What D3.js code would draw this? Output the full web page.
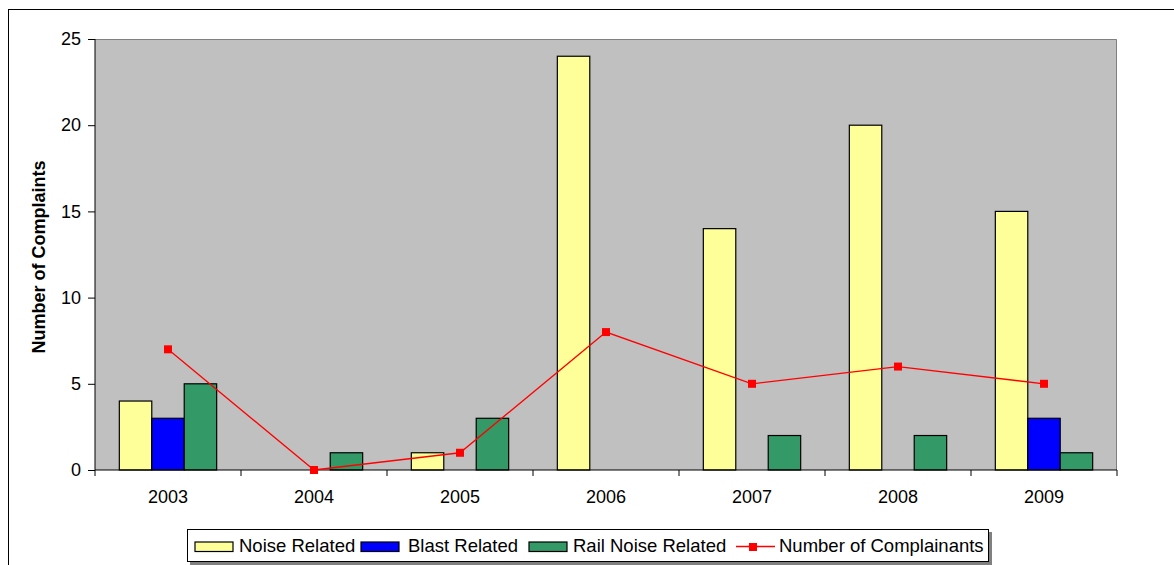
<!DOCTYPE html>
<html>
<head>
<meta charset="utf-8">
<script src="https://cdn.jsdelivr.net/npm/d3@7"></script>
<style>
  html, body { margin: 0; padding: 0; background: #fff; }
  svg { display: block; font-family: "Liberation Sans", Arial, sans-serif; }
</style>
</head>
<body>
<svg id="chart" width="1174" height="565"></svg>
<script>
// Complaint counts per year
const years = ["2003", "2004", "2005", "2006", "2007", "2008", "2009"];
const noiseRelated = [4, 0, 1, 24, 14, 20, 15];
const blastRelated = [3, 0, 0, 0, 0, 0, 3];
const railNoiseRelated = [5, 1, 3, 0, 2, 2, 1];
const complainants = [7, 0, 1, 8, 5, 6, 5];
const yTicks = [0, 5, 10, 15, 20, 25];

const barSeries = [
  { name: "Noise Related", values: noiseRelated, color: "#FFFF99" },
  { name: "Blast Related", values: blastRelated, color: "#0000FF" },
  { name: "Rail Noise Related", values: railNoiseRelated, color: "#339966" }
];

const FONT = "Liberation Sans, Arial, sans-serif";
const svg = d3.select("#chart");
const plot = { left: 95, top: 39, right: 1117, bottom: 470 };

// Outer chart frame
svg.append("rect")
  .attr("x", 8.5).attr("y", 9.5)
  .attr("width", 1180).attr("height", 570)
  .attr("fill", "#fff").attr("stroke", "#000").attr("stroke-width", 1);

const x = d3.scaleBand().domain(years).range([plot.left, plot.right]).paddingInner(0).paddingOuter(0);
const y = d3.scaleLinear().domain([0, 25]).range([plot.bottom, plot.top]);

// Plot area background
svg.append("rect")
  .attr("x", plot.left).attr("y", plot.top)
  .attr("width", plot.right - plot.left).attr("height", plot.bottom - plot.top)
  .attr("fill", "#C0C0C0");
svg.append("path")
  .attr("d", `M${plot.left},${plot.top + 0.5}H${plot.right - 0.5}V${plot.bottom}`)
  .attr("fill", "none").attr("stroke", "#808080").attr("stroke-width", 1);

// Bars: three per year, 150% gap between groups
const barW = x.bandwidth() / 4.5;
const inner = d3.scaleBand().domain(barSeries.map(s => s.name))
  .range([0, barW * 3]);

const groups = svg.append("g");
barSeries.forEach(s => {
  groups.selectAll(null)
    .data(years.map((yr, i) => ({ yr, v: s.values[i] })).filter(d => d.v > 0))
    .join("rect")
    .attr("x", d => x(d.yr) + barW * 0.75 + inner(s.name))
    .attr("y", d => y(d.v))
    .attr("width", inner.bandwidth())
    .attr("height", d => y(0) - y(d.v))
    .attr("fill", s.color)
    .attr("stroke", "#000")
    .attr("stroke-width", 1.2);
});

// Y axis
const yAxis = svg.append("g")
  .attr("transform", `translate(${plot.left},0)`)
  .call(d3.axisLeft(y).tickValues(yTicks).tickSize(7).tickPadding(7));
yAxis.select(".domain").attr("stroke", "#000").attr("d", `M0,${plot.top}V${plot.bottom}`);
yAxis.selectAll(".tick line").attr("stroke", "#000");
yAxis.selectAll("text").attr("font-size", 18).attr("fill", "#000")
  .attr("font-family", FONT);

// X axis with ticks at category boundaries
const xAxisG = svg.append("g").attr("transform", `translate(0,${plot.bottom})`);
xAxisG.append("line")
  .attr("x1", plot.left).attr("x2", plot.right)
  .attr("stroke", "#000").attr("stroke-width", 1);
const boundaries = years.map(yr => x(yr)).concat([x(years[years.length - 1]) + x.bandwidth()]);
xAxisG.selectAll("line.tk").data(boundaries).join("line")
  .attr("class", "tk")
  .attr("x1", d => d).attr("x2", d => d)
  .attr("y1", 0).attr("y2", 6)
  .attr("stroke", "#000");
xAxisG.selectAll("text").data(years).join("text")
  .attr("x", d => x(d) + x.bandwidth() / 2)
  .attr("y", 33)
  .attr("text-anchor", "middle")
  .attr("font-size", 18)
  .text(d => d);

// Y axis title
svg.append("text")
  .attr("transform", `translate(45,257) rotate(-90)`)
  .attr("text-anchor", "middle")
  .attr("font-size", 18)
  .attr("font-weight", "bold")
  .text("Number of Complaints");

// Complainants line with square markers
const lineGen = d3.line()
  .x((d, i) => x(years[i]) + x.bandwidth() / 2)
  .y(d => y(d));
svg.append("path")
  .datum(complainants)
  .attr("d", lineGen)
  .attr("fill", "none")
  .attr("stroke", "#FF0000")
  .attr("stroke-width", 1.3);
svg.selectAll("rect.mk").data(complainants).join("rect")
  .attr("class", "mk")
  .attr("x", (d, i) => x(years[i]) + x.bandwidth() / 2 - 4)
  .attr("y", d => y(d) - 4)
  .attr("width", 8).attr("height", 8)
  .attr("fill", "#FF0000");

// Legend
const legend = svg.append("g");
legend.append("rect")
  .attr("x", 190).attr("y", 532).attr("width", 802).attr("height", 33)
  .attr("fill", "#808080");
legend.append("rect")
  .attr("x", 187.5).attr("y", 529.5).attr("width", 801).attr("height", 32)
  .attr("fill", "#fff").attr("stroke", "#000").attr("stroke-width", 1);

const legendItems = [
  { name: barSeries[0].name, color: barSeries[0].color, sx: 195, tx: 239 },
  { name: barSeries[1].name, color: barSeries[1].color, sx: 361, tx: 408 },
  { name: barSeries[2].name, color: barSeries[2].color, sx: 529, tx: 573 }
];
legendItems.forEach(it => {
  legend.append("rect")
    .attr("x", it.sx).attr("y", 542).attr("width", 38).attr("height", 9.5)
    .attr("fill", it.color).attr("stroke", "#000").attr("stroke-width", 1.2);
  legend.append("text")
    .attr("x", it.tx).attr("y", 552)
    .attr("font-size", 18.5)
    .text(it.name);
});
legend.append("line")
  .attr("x1", 736).attr("x2", 775).attr("y1", 546.5).attr("y2", 546.5)
  .attr("stroke", "#FF0000").attr("stroke-width", 1.5);
legend.append("rect")
  .attr("x", 749).attr("y", 543).attr("width", 8).attr("height", 8)
  .attr("fill", "#FF0000");
legend.append("text")
  .attr("x", 779).attr("y", 552)
  .attr("font-size", 18.5)
  .text("Number of Complainants");
</script>
</body>
</html>
